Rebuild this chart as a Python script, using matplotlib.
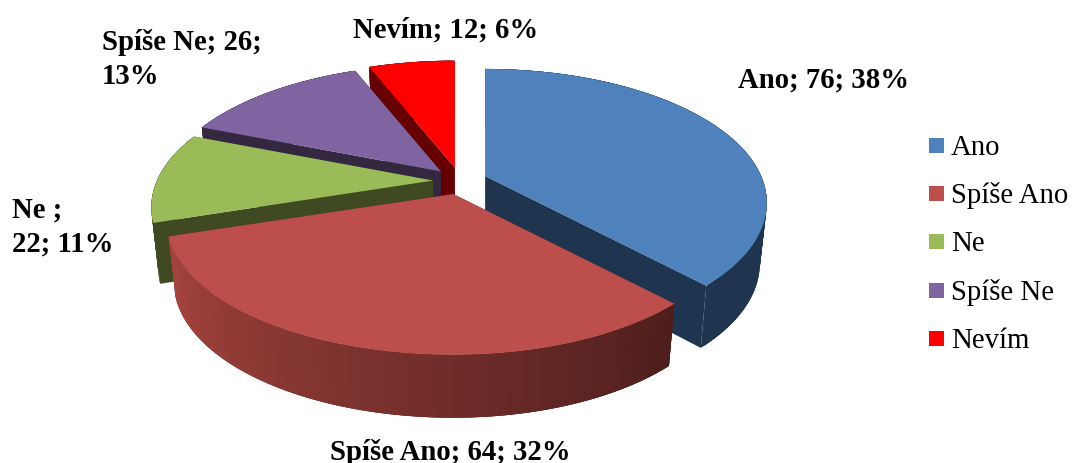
import matplotlib.pyplot as plt
from matplotlib.colors import to_rgb
from matplotlib.patches import Rectangle
import numpy as np

categories = ["Ano", "Spíše Ano", "Ne", "Spíše Ne", "Nevím"]
values = [76, 64, 22, 26, 12]
label_breaks = ["{c}; {v}; {p}%", "{c}; {v}; {p}%", "{c} ;\n{v}; {p}%", "{c}; {v};\n{p}%", "{c}; {v}; {p}%"]

top_colors = ["#4F81BD", "#BC4E4B", "#9BBB59", "#8064A2", "#FF0000"]
side_colors = ["#1E344F", "#4D1E1C", "#404A22", "#332840", "#660000"]
red_wall_light = "#A8453F"
label_pos = [(738, 88), (330, 460), (12, 218), (102, 50), (353, 38)]
draw_order = [4, 3, 2, 0, 1]
left_stretch = [1, 1.018, 1, 1, 1]

# pie geometry in image pixels
CX, CY = 460, 182
RX, RY = 276, 128.5
EX, EY = 27, 13.5
PERSP = 0.2
DEPTH = 60
BOTTOM_SHRINK = 0.975
FONT = "Liberation Serif"
FONT_SIZE = 20.7


def project(theta, apex, stretch):
    s = 1 / (1 + PERSP * np.cos(theta))
    x = RX * np.sin(theta) * s
    return apex[0] + np.where(x < 0, x * stretch, x), apex[1] - RY * np.cos(theta) * s


def lower(xs, ys, thetas, apex):
    # the base ring is a little narrower than the top face
    return apex[0] + (xs - apex[0]) * BOTTOM_SHRINK, ys + DEPTH * (1 - 0.05 * np.cos(thetas))


def draw_slice(ax, t0, t1, top, side, stretch, gradient=False):
    mid = (t0 + t1) / 2
    apex = (CX + EX * np.sin(mid), CY - EY * np.cos(mid))
    thetas = np.linspace(t0, t1, 2 * max(int(np.degrees(t1 - t0)), 2) + 1)
    xs, ys = project(thetas, apex, stretch)
    xb, yb = lower(xs, ys, thetas, apex)

    # cut faces
    for k in (0, -1):
        ax.fill([apex[0], xs[k], xb[k], apex[0]], [apex[1], ys[k], yb[k], apex[1] + DEPTH],
                color=side, lw=0, zorder=1)

    # outer wall: overlapping quads, so no seams show between them
    for i in range(len(thetas) - 1, 0, -1):
        color = side
        if gradient:
            t = (i - 1) / (len(thetas) - 2)
            color = tuple((1 - t) * a + t * b for a, b in zip(to_rgb(side), to_rgb(red_wall_light)))
        j = max(i - 3, 0)
        ax.fill([xs[j], xs[i], xb[i], xb[j]], [ys[j], ys[i], yb[i], yb[j]],
                color=color, lw=0, zorder=1)

    ax.fill(np.r_[apex[0], xs], np.r_[apex[1], ys], color=top, lw=0, zorder=1)


def main() -> None:
    fig = plt.figure(figsize=(10.74, 4.64), dpi=100)
    ax = fig.add_axes([0, 0, 1, 1])
    ax.set_xlim(0, 1074)
    ax.set_ylim(464, 0)
    ax.axis("off")

    edges = np.r_[0, np.cumsum(values)] / sum(values) * 2 * np.pi
    for i in draw_order:
        draw_slice(ax, edges[i], edges[i + 1], top_colors[i], side_colors[i],
                   left_stretch[i], gradient=i == 1)

    for i, cat in enumerate(categories):
        pct = round(100 * values[i] / sum(values))
        text = label_breaks[i].format(c=cat, v=values[i], p=pct)
        x, y = label_pos[i]
        for n, line in enumerate(text.split("\n")):
            ax.text(x, y + n * 34, line, family=FONT, fontsize=FONT_SIZE,
                    fontweight="bold", ha="left", va="baseline", color="black")

    # legend by hand, matplotlib's rows come out uneven with descenders
    for i, cat in enumerate(categories):
        y = 155 + i * 48.2
        ax.add_patch(Rectangle((929, y - 16), 15, 15, facecolor=top_colors[i], edgecolor="none"))
        ax.text(951, y, cat, family=FONT, fontsize=FONT_SIZE, ha="left", va="baseline", color="black")

    fig.savefig("out.png", dpi=100)


if __name__ == "__main__":
    main()
